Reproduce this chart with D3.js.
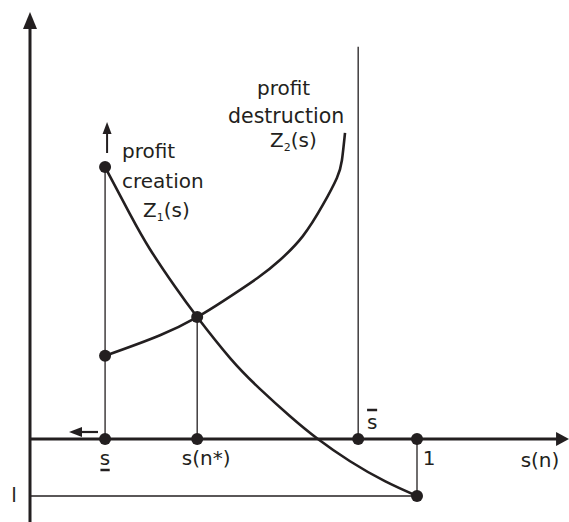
<!DOCTYPE html>
<html>
<head>
<meta charset="utf-8">
<script src="https://cdn.jsdelivr.net/npm/d3@7"></script>
<style>
  body { margin: 0; background: #fff; }
  svg { display: block; }
  text { font-family: "DejaVu Sans", sans-serif; fill: #231f20; }
</style>
</head>
<body>
<svg width="569" height="522"></svg>
<script>
// curve points, share of market s on x, profit on y
var z1 = [[0.194, 4.77], [0.258, 3.95], [0.31, 3.33], [0.375, 2.67], [0.432, 2.14], [0.517, 1.42],
          [0.594, 0.88], [0.672, 0.4], [0.744, 0], [0.827, -0.39], [0.917, -0.74], [1, -1]];
var z2 = [[0.194, 1.46], [0.336, 1.82], [0.432, 2.14], [0.499, 2.42], [0.587, 2.82], [0.646, 3.14],
          [0.705, 3.56], [0.757, 4.11], [0.793, 4.58], [0.806, 4.89], [0.814, 5.37]];

var sLow = 0.194, sStar = 0.432, sBar = 0.848, sOne = 1;
var lossL = -1;
var xMax = 1.393, yMax = 7.49, yBarTop = 6.88;

var svg = d3.select("svg");
var ink = "#231f20";

var x = d3.scaleLinear().domain([0, 1]).range([30, 417]),
    y = d3.scaleLinear().domain([lossL, 0]).range([496, 439]);

var line = d3.line()
    .x(function (d) { return x(d[0]); })
    .y(function (d) { return y(d[1]); })
    .curve(d3.curveNatural);

function seg(x1, y1, x2, y2, w) {
    return svg.append("line")
        .attr("x1", x(x1)).attr("y1", y(y1))
        .attr("x2", x(x2)).attr("y2", y(y2))
        .attr("stroke", ink).attr("stroke-width", w);
}

// thin guide lines
seg(sLow, 0, sLow, z1[0][1], 1.3);
seg(sStar, 0, sStar, z1[4][1], 1.3);
seg(sBar, 0, sBar, yBarTop, 1.3);
seg(sOne, 0, sOne, lossL, 1.3);
seg(0, lossL, sOne, lossL, 1.3);

// axes
seg(0, y.invert(522), 0, y.invert(26), 3);
seg(0, 0, x.invert(557), 0, 3);
svg.append("path")
    .attr("d", "M" + x(0) + "," + y(yMax) + "l-7,17h14z")
    .attr("fill", ink);
svg.append("path")
    .attr("d", "M" + x(xMax) + "," + y(0) + "l-13,-7v14z")
    .attr("fill", ink);

// curves
[z1, z2].forEach(function (c) {
    svg.append("path")
        .attr("d", line(c))
        .attr("fill", "none")
        .attr("stroke", ink)
        .attr("stroke-width", 2.6);
});

// small arrows
svg.append("line")
    .attr("x1", x(sLow) + 2).attr("y1", 153)
    .attr("x2", x(sLow) + 2).attr("y2", 130)
    .attr("stroke", ink).attr("stroke-width", 2);
svg.append("path")
    .attr("d", "M" + (x(sLow) + 2) + ",122l-4.5,12h9z").attr("fill", ink);
svg.append("line")
    .attr("x1", 98).attr("y1", 432).attr("x2", 80).attr("y2", 432)
    .attr("stroke", ink).attr("stroke-width", 2.2);
svg.append("path")
    .attr("d", "M69,432l13,-5v10z").attr("fill", ink);

// dots
var dots = [[sLow, z1[0][1]], [sLow, z2[0][1]], [sStar, z1[4][1]], [sLow, 0], [sStar, 0], [sBar, 0], [sOne, 0], [sOne, lossL]];
svg.selectAll(".dot")
    .data(dots)
    .enter().append("circle")
    .attr("class", "dot")
    .attr("cx", function (d) { return x(d[0]); })
    .attr("cy", function (d) { return y(d[1]); })
    .attr("r", 6)
    .attr("fill", ink);

// labels
function label(tx, ty, str, size) {
    return svg.append("text")
        .attr("x", tx).attr("y", ty)
        .style("font-size", (size || 20) + "px")
        .text(str);
}
label(122, 158, "profit");
label(122, 188, "creation");
var t1 = label(143, 217, "Z");
t1.append("tspan").attr("dy", 4).style("font-size", "11px").text("1");
t1.append("tspan").attr("dy", -4).text("(s)");

label(257, 95, "profit");
label(228, 123, "destruction", 20.5);
var t2 = label(270, 147, "Z");
t2.append("tspan").attr("dy", 4).style("font-size", "11px").text("2");
t2.append("tspan").attr("dy", -4).text("(s)");

label(x(sLow), 465, "s").attr("text-anchor", "middle");
seg(sLow - 0.012, y.invert(470), sLow + 0.012, y.invert(470), 2.5);
label(x(sStar) + 9, 465, "s(n*)").attr("text-anchor", "middle");
label(x(sBar) + 14, 429, "s").attr("text-anchor", "middle");
seg(sBar + 0.023, y.invert(410), sBar + 0.049, y.invert(410), 2.5);
label(x(sOne) + 12, 465, "1").attr("text-anchor", "middle");
label(540, 467, "s(n)").attr("text-anchor", "middle");
label(14, 502, "l").attr("text-anchor", "middle");
</script>
</body>
</html>
